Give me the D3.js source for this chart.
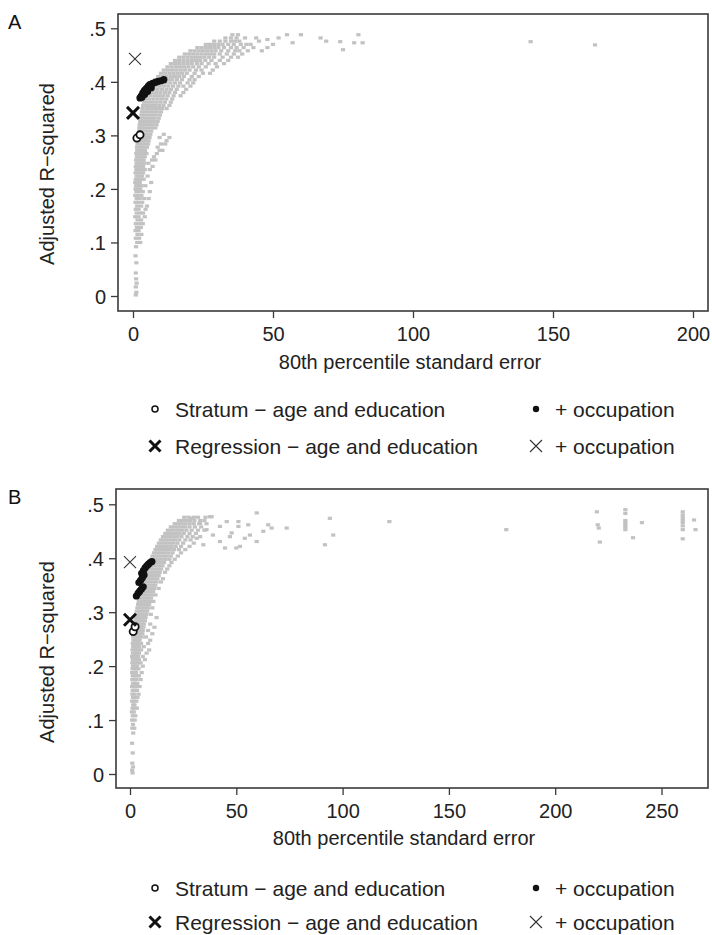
<!DOCTYPE html>
<html>
<head>
<meta charset="utf-8">
<script src="https://cdn.jsdelivr.net/npm/d3@7"></script>
<style>
  html, body { margin: 0; padding: 0; background: #fff; }
  svg { display: block; font-family: "Liberation Sans", Arial, sans-serif; }
</style>
</head>
<body>
<svg id="chart" width="712" height="935"></svg>
<script>
// ---- Panel A: model fits (gray) by adjusted R-squared, rows as [y, x, x, ...]
const cloudA = [
  [.002, 1.0], [.007, 1.2], [.017, 1.0], [.024, 1.3], [.032, 1.1], [.043, 1.0],
  [.062, 1.2], [.075, 0.9], [.092, 1.1], [.100, 1.5, 2.6], [.108, 1.0, 2.2],
  [.115, 1.6, 3.0], [.122, 0.9, 2.0], [.128, 1.4, 2.8], [.135, 1.0, 2.3, 3.5],
  [.142, 1.6, 2.9], [.148, 0.8, 2.0, 4.2], [.155, 1.3, 2.6, 3.6],
  [.162, 1.0, 2.0, 4.5], [.168, 1.5, 2.9, 5.0], [.175, 0.9, 1.9, 3.3],
  [.182, 1.3, 2.4, 4.0, 5.6], [.188, 0.8, 1.7, 3.0], [.195, 1.2, 2.1, 3.5, 6.0],
  [.200, 0.9, 1.6, 2.6], [.206, 1.1, 2.0, 3.0, 4.4], [.212, 0.8, 1.5, 2.4, 6.5],
  [.218, 1.0, 1.9, 2.8, 3.8], [.224, 1.3, 2.2, 3.2, 5.2], [.230, 0.9, 1.7, 2.6, 3.6],
  [.236, 1.2, 2.0, 3.0, 4.2, 6.0], [.242, 1.0, 1.8, 2.7, 3.6, 7.0],
  [.248, 1.3, 2.2, 3.1, 4.0, 5.5], [.254, 1.1, 2.0, 2.9, 3.8, 6.8, 8.0],
  [.260, 1.4, 2.3, 3.2, 4.2, 7.5], [.266, 1.2, 2.1, 3.0, 3.9, 4.8, 8.5],
  [.272, 1.5, 2.4, 3.3, 4.3, 9.5, 10.5], [.278, 1.4, 2.3, 3.2, 4.1, 5.0, 8.8],
  [.284, 1.6, 2.5, 3.4, 4.4, 5.4, 10.0, 11.5], [.290, 1.8, 2.7, 3.6, 4.6, 5.6, 12.0],
  [.296, 2.0, 2.9, 3.8, 4.8, 5.9, 9.5, 13.0], [.302, 2.0, 3.0, 4.0, 5.0, 6.2, 11.0],
  [.308, 2.2, 3.2, 4.2, 5.3, 6.5], [.314, 2.3, 3.3, 4.4, 5.5, 6.8, 8.0],
  [.320, 2.4, 3.5, 4.6, 5.8, 7.0, 8.4], [.326, 2.6, 3.7, 4.9, 6.1, 7.4, 8.8],
  [.332, 2.8, 4.0, 5.2, 6.4, 7.7, 9.2], [.338, 3.0, 4.2, 5.5, 6.8, 8.1, 9.6],
  [.344, 3.2, 4.5, 5.8, 7.1, 8.5, 10.0], [.350, 3.4, 4.8, 6.1, 7.5, 8.9, 10.4, 12.0],
  [.356, 3.6, 5.0, 6.4, 7.9, 9.4, 10.9, 13.0], [.362, 4.0, 5.4, 6.8, 8.3, 9.8, 11.4, 13.5],
  [.368, 4.4, 5.8, 7.3, 8.8, 10.3, 11.9, 14.0],
  [.374, 4.8, 6.3, 7.8, 9.3, 10.8, 12.4, 14.5, 17.0],
  [.380, 5.3, 6.8, 8.3, 9.8, 11.4, 13.0, 15.0, 18.0],
  [.386, 5.8, 7.3, 8.8, 10.4, 12.0, 13.6, 15.6, 19.0],
  [.392, 6.5, 8.0, 9.5, 11.0, 12.6, 14.3, 16.2, 18.0, 20.5],
  [.398, 7.2, 8.7, 10.2, 11.7, 13.3, 15.0, 16.8, 19.5, 21.5],
  [.404, 8.0, 9.5, 11.0, 12.5, 14.0, 15.7, 17.5, 20.2, 22.0],
  [.410, 9.0, 10.5, 12.0, 13.5, 15.0, 16.5, 18.2, 21.0, 23.5],
  [.416, 10.0, 11.5, 13.0, 14.5, 16.0, 17.5, 19.2, 22.0, 25.0, 27.5],
  [.422, 11.0, 12.5, 14.0, 15.5, 17.0, 18.5, 20.2, 22.5, 24.5, 28.5],
  [.428, 12.3, 13.8, 15.3, 16.8, 18.3, 19.8, 21.5, 23.5, 26.0, 30.0],
  [.434, 13.5, 15.0, 16.5, 18.0, 19.5, 21.0, 22.8, 24.5, 27.0, 29.5, 32.5],
  [.440, 15.0, 16.5, 18.0, 19.5, 21.0, 22.5, 24.0, 25.8, 28.0, 31.0, 34.0],
  [.446, 16.5, 18.0, 19.5, 21.0, 22.5, 24.0, 25.5, 27.2, 29.0, 32.0, 35.0, 37.5],
  [.452, 18.5, 20.0, 21.5, 23.0, 24.5, 26.0, 27.5, 29.0, 31.0, 33.5, 36.0, 39.0],
  [.458, 20.5, 22.0, 23.5, 25.0, 26.5, 28.0, 29.5, 31.5, 34.0, 36.5, 38.0, 41.0],
  [.464, 23.0, 24.5, 26.0, 27.5, 29.0, 30.5, 32.5, 35.0, 37.0, 39.5, 43.0],
  [.470, 26.0, 27.5, 29.0, 30.5, 32.0, 34.0, 36.0, 38.5, 40.5, 42.0, 50.0],
  [.476, 29.0, 31.0, 33.0, 35.0, 36.5, 38.0, 45.0, 69.0],
  [.482, 33.0, 35.0, 37.0, 40.0, 44.0, 52.0, 67.0], [.488, 35.5, 37.5, 55.0, 60.0, 80.5],
  [.479, 48.0], [.464, 48.0], [.458, 46.0], [.473, 57.0, 79.0, 82.0], [.475, 74.0, 142.0],
  [.460, 75.0], [.469, 165.0]
];

// ---- Panel B: model fits (gray)
const cloudB = [
  [.002, 1.2], [.007, 1.0], [.013, 1.4], [.020, 1.1], [.039, 1.3], [.057, 1.0],
  [.076, 1.5], [.085, 1.1, 2.0], [.092, 1.4], [.100, 1.0, 2.2], [.108, 1.3, 2.5],
  [.115, 0.9, 1.8], [.122, 1.2, 2.4, 3.2], [.128, 1.5, 2.1], [.135, 1.0, 2.0, 3.0],
  [.142, 1.4, 2.5, 3.5], [.148, 1.1, 2.0, 4.0], [.155, 1.3, 2.4, 3.3],
  [.162, 1.0, 1.9, 2.8, 4.5], [.168, 1.4, 2.3, 3.4], [.175, 1.1, 2.0, 3.0, 5.0],
  [.182, 1.3, 2.2, 3.3, 4.2], [.188, 1.0, 1.9, 2.8, 5.5], [.195, 1.2, 2.1, 3.0, 4.0],
  [.200, 1.4, 2.3, 3.3, 6.0], [.206, 1.1, 2.0, 2.9, 3.8, 5.0],
  [.212, 1.3, 2.2, 3.1, 4.2, 7.0], [.218, 1.0, 1.9, 2.8, 3.7, 6.0],
  [.224, 1.4, 2.3, 3.2, 4.2, 7.8], [.230, 1.2, 2.1, 3.0, 3.9, 5.2, 9.0],
  [.236, 1.5, 2.4, 3.3, 4.3, 6.5], [.242, 1.3, 2.2, 3.1, 4.1, 5.2, 8.5],
  [.248, 1.6, 2.5, 3.5, 4.5, 9.5], [.254, 1.5, 2.4, 3.4, 4.4, 5.5, 7.5],
  [.260, 1.8, 2.7, 3.7, 4.7, 5.8, 10.5], [.266, 2.0, 2.9, 3.9, 4.9, 6.0, 8.5],
  [.272, 2.2, 3.1, 4.1, 5.2, 6.3, 11.5], [.278, 2.4, 3.4, 4.4, 5.5, 6.6, 9.5],
  [.284, 2.6, 3.6, 4.7, 5.8, 7.0], [.290, 2.8, 3.9, 5.0, 6.1, 7.3, 12.5],
  [.296, 3.0, 4.1, 5.3, 6.5, 7.7, 9.8], [.302, 3.2, 4.4, 5.6, 6.8, 8.1],
  [.308, 3.5, 4.7, 5.9, 7.2, 8.5, 10.5], [.314, 3.8, 5.0, 6.3, 7.6, 9.0],
  [.320, 4.1, 5.4, 6.7, 8.0, 9.4, 11.0], [.326, 4.4, 5.7, 7.1, 8.5, 9.9],
  [.332, 4.8, 6.1, 7.5, 8.9, 10.4, 12.0], [.338, 5.1, 6.5, 7.9, 9.4, 10.9],
  [.344, 5.5, 6.9, 8.4, 9.9, 11.4, 13.5], [.350, 5.9, 7.3, 8.8, 10.3, 11.9],
  [.356, 6.3, 7.8, 9.3, 10.8, 12.4, 14.5], [.362, 6.8, 8.3, 9.8, 11.3, 12.9, 15.5],
  [.368, 7.2, 8.7, 10.3, 11.9, 13.5], [.374, 7.7, 9.2, 10.8, 12.4, 14.0, 16.5],
  [.380, 8.2, 9.8, 11.4, 13.0, 14.6, 17.5], [.386, 8.8, 10.4, 12.0, 13.6, 15.3, 18.5],
  [.392, 9.4, 11.0, 12.6, 14.2, 16.0, 19.5],
  [.398, 10.0, 11.6, 13.2, 14.9, 16.6, 18.5, 21.0],
  [.404, 10.6, 12.2, 13.8, 15.5, 17.3, 19.2, 22.5],
  [.410, 11.3, 12.9, 14.5, 16.2, 18.0, 20.0, 24.0],
  [.416, 12.0, 13.6, 15.2, 16.9, 18.7, 20.7, 23.0, 26.0],
  [.422, 12.8, 14.4, 16.0, 17.7, 19.5, 21.5, 24.0, 28.0, 51.7],
  [.428, 13.6, 15.2, 16.8, 18.5, 20.3, 22.3, 25.0, 30.0],
  [.434, 14.5, 16.1, 17.7, 19.4, 21.2, 23.2, 26.0, 28.5],
  [.440, 15.5, 17.1, 18.7, 20.4, 22.2, 24.2, 27.0, 29.5, 33.0, 47.0],
  [.446, 16.6, 18.2, 19.8, 21.5, 23.3, 25.3, 28.0, 31.0],
  [.452, 17.8, 19.4, 21.0, 22.7, 24.5, 26.5, 29.0, 32.0, 35.0],
  [.458, 19.2, 20.8, 22.4, 24.1, 25.9, 28.0, 30.5, 33.5],
  [.464, 21.0, 22.6, 24.2, 26.0, 28.0, 30.0, 32.5, 36.0],
  [.470, 23.0, 24.6, 26.3, 28.2, 30.3, 33.0, 35.0],
  [.476, 25.5, 27.5, 30.0, 32.0, 35.5],
  [.474, 29.0, 94.0], [.477, 37.6, 38.4], [.459, 42.3, 51.0], [.447, 47.8],
  [.437, 54.0, 31.4], [.431, 42.3, 59.6], [.425, 34.5, 91.7], [.419, 44.7, 50.0],
  [.443, 56.4, 39.0, 95.6], [.453, 36.0], [.468, 45.5, 51.0], [.484, 59.6],
  [.462, 55.6, 65.0], [.450, 62.7], [.456, 66.6, 73.7], [.465, 33.0],
  [.468, 122.0], [.453, 177.0], [.486, 219.6], [.462, 220.0], [.456, 220.5],
  [.430, 221.0], [.490, 233.0], [.483, 233.0], [.470, 233.0], [.466, 233.0],
  [.462, 233.0], [.458, 233.0], [.453, 233.0], [.438, 236.6], [.466, 240.8],
  [.486, 260.0], [.480, 260.0], [.475, 260.0], [.470, 260.0], [.466, 260.0],
  [.460, 260.0], [.453, 260.0], [.436, 260.0], [.471, 265.3], [.453, 266.0]
];

// ---- Highlighted models: [x, y]
const stratumA   = [[1.4, .295], [2.5, .301]];
const stratumOccA = [[2.5, .370], [3.0, .374], [3.5, .379], [4.0, .383], [4.5, .386],
  [5.0, .389], [5.5, .392], [6.0, .395], [7.0, .397], [8.0, .399], [9.0, .401],
  [10.0, .402], [11.0, .404], [3.2, .371], [4.2, .377], [5.2, .382], [6.5, .389]];
const regressionA = [[0, .342]];
const regressionOccA = [[0.7, .443]];

const stratumB   = [[1.5, .264], [2.4, .273]];
const stratumOccB = [[5.5, .372], [6.3, .377], [7.1, .382], [7.9, .386], [8.7, .389],
  [9.5, .392], [10.3, .394], [4.2, .355], [5.0, .359], [5.8, .364], [6.6, .369],
  [3.0, .330], [3.8, .335], [4.6, .339], [5.4, .343], [6.2, .347]];
const regressionB = [[0, .286]];
const regressionOccB = [[0, .393]];

// ---- Axis ticks
const yTicks = [0, .1, .2, .3, .4, .5];
const yTickLabels = ["0", ".1", ".2", ".3", ".4", ".5"];
const xTicksA = [0, 50, 100, 150, 200];
const xTicksB = [0, 50, 100, 150, 200, 250];

const legendLabels = [
  "Stratum \u2212 age and education", "+ occupation",
  "Regression \u2212 age and education", "+ occupation"
];
const legendSymbols = ["circle", "dot", "xbold", "xthin"];

const svg = d3.select("#chart");
const FONT = 20;
const LEGEND_FONT = 21;

function flattenRows(rows) {
  const pts = [];
  rows.forEach(r => { for (let i = 1; i < r.length; i++) pts.push([r[i], r[0]]); });
  return pts;
}

function xMark(g, cx, cy, half, width, color) {
  g.append("path")
    .attr("d", `M${cx - half},${cy - half}L${cx + half},${cy + half}M${cx - half},${cy + half}L${cx + half},${cy - half}`)
    .attr("stroke", color).attr("stroke-width", width).attr("fill", "none");
}

function drawPanel(p) {
  const g = svg.append("g");
  const x = d3.scaleLinear().domain(p.xDomain).range(p.xRange);
  const y = d3.scaleLinear().domain([0, .5]).range(p.yRange);

  // frame
  g.append("rect")
    .attr("x", p.frame[0]).attr("y", p.frame[1])
    .attr("width", p.frame[2] - p.frame[0]).attr("height", p.frame[3] - p.frame[1])
    .attr("fill", "#fff").attr("stroke", "#3a3a3a").attr("stroke-width", 1.6);

  // y axis
  const yAxis = d3.axisLeft(y).tickValues(yTicks).tickSize(7).tickPadding(5)
    .tickFormat((d, i) => yTickLabels[i]);
  const ya = g.append("g").attr("transform", `translate(${p.frame[0]},0)`).call(yAxis);
  ya.select(".domain").remove();
  ya.selectAll("line").attr("stroke", "#3a3a3a").attr("stroke-width", 1.3);
  ya.selectAll("text").attr("font-size", FONT).attr("fill", "#222")
    .attr("font-family", "Liberation Sans, Arial, sans-serif").attr("dy", "0.36em");

  // x axis
  const xAxis = d3.axisBottom(x).tickValues(p.xTicks).tickSize(7).tickPadding(9)
    .tickFormat(d3.format("d"));
  const xa = g.append("g").attr("transform", `translate(0,${p.frame[3]})`).call(xAxis);
  xa.select(".domain").remove();
  xa.selectAll("line").attr("stroke", "#3a3a3a").attr("stroke-width", 1.3);
  xa.selectAll("text").attr("font-size", FONT).attr("fill", "#222")
    .attr("font-family", "Liberation Sans, Arial, sans-serif");

  // gray cloud
  g.append("g").selectAll("rect").data(flattenRows(p.cloud)).join("rect")
    .attr("x", d => x(d[0]) - 2.1).attr("y", d => y(d[1]) - 1.6)
    .attr("width", 4.2).attr("height", 3.2).attr("fill", "#c2c2c2");

  // stratum with occupation (filled)
  g.append("g").selectAll("circle").data(p.stratumOcc).join("circle")
    .attr("cx", d => x(d[0])).attr("cy", d => y(d[1])).attr("r", 3.6).attr("fill", "#111");
  // stratum age & education (hollow)
  g.append("g").selectAll("circle").data(p.stratum).join("circle")
    .attr("cx", d => x(d[0])).attr("cy", d => y(d[1])).attr("r", 3.6)
    .attr("fill", "#fff").attr("stroke", "#111").attr("stroke-width", 1.8);
  // regression markers
  p.regression.forEach(d => xMark(g, x(d[0]), y(d[1]), 6, 3, "#111"));
  p.regressionOcc.forEach(d => xMark(g, x(d[0]), y(d[1]), 6, 1.1, "#333"));

  // titles
  g.append("text").attr("x", p.xTitle[0]).attr("y", p.xTitle[1])
    .attr("text-anchor", "middle").attr("font-size", FONT).attr("fill", "#222")
    .text("80th percentile standard error");
  g.append("text")
    .attr("transform", `translate(${p.yTitle[0]},${p.yTitle[1]}) rotate(-90)`)
    .attr("text-anchor", "middle").attr("font-size", FONT).attr("fill", "#222")
    .text("Adjusted R\u2212squared");
  g.append("text").attr("x", p.letter[0]).attr("y", p.letter[1])
    .attr("font-size", FONT).attr("fill", "#111").text(p.letterText);

  // legend
  const lg = g.append("g");
  legendLabels.forEach((lab, i) => {
    const col = i % 2, row = Math.floor(i / 2);
    const mx = p.legend.markX[col], tx = p.legend.textX[col];
    const cy = p.legend.rowY[row];
    const sym = legendSymbols[i];
    if (sym === "circle") lg.append("circle").attr("cx", mx).attr("cy", cy).attr("r", 3)
      .attr("fill", "#fff").attr("stroke", "#111").attr("stroke-width", 1.5);
    if (sym === "dot") lg.append("circle").attr("cx", mx).attr("cy", cy).attr("r", 3.2).attr("fill", "#111");
    if (sym === "xbold") xMark(lg, mx, cy, 5.5, 3, "#111");
    if (sym === "xthin") xMark(lg, mx, cy, 6, 1.1, "#333");
    lg.append("text").attr("x", tx).attr("y", cy).attr("dy", "0.36em")
      .attr("font-size", LEGEND_FONT).attr("fill", "#222").text(lab);
  });
}

drawPanel({
  cloud: cloudA, stratum: stratumA, stratumOcc: stratumOccA,
  regression: regressionA, regressionOcc: regressionOccA,
  xDomain: [0, 200], xRange: [133, 693], yRange: [296, 28.3],
  frame: [118, 14, 708, 311], xTicks: xTicksA,
  xTitle: [410, 369], yTitle: [54, 174], letter: [8, 29], letterText: "A",
  legend: { markX: [155, 536], textX: [175, 555], rowY: [409, 446] }
});

drawPanel({
  cloud: cloudB, stratum: stratumB, stratumOcc: stratumOccB,
  regression: regressionB, regressionOcc: regressionOccB,
  xDomain: [0, 250], xRange: [130, 661.5], yRange: [774, 504.3],
  frame: [116, 489, 708, 788], xTicks: xTicksB,
  xTitle: [404, 845], yTitle: [54, 652], letter: [8, 504], letterText: "B",
  legend: { markX: [155, 536], textX: [175, 555], rowY: [888, 922] }
});
</script>
</body>
</html>
